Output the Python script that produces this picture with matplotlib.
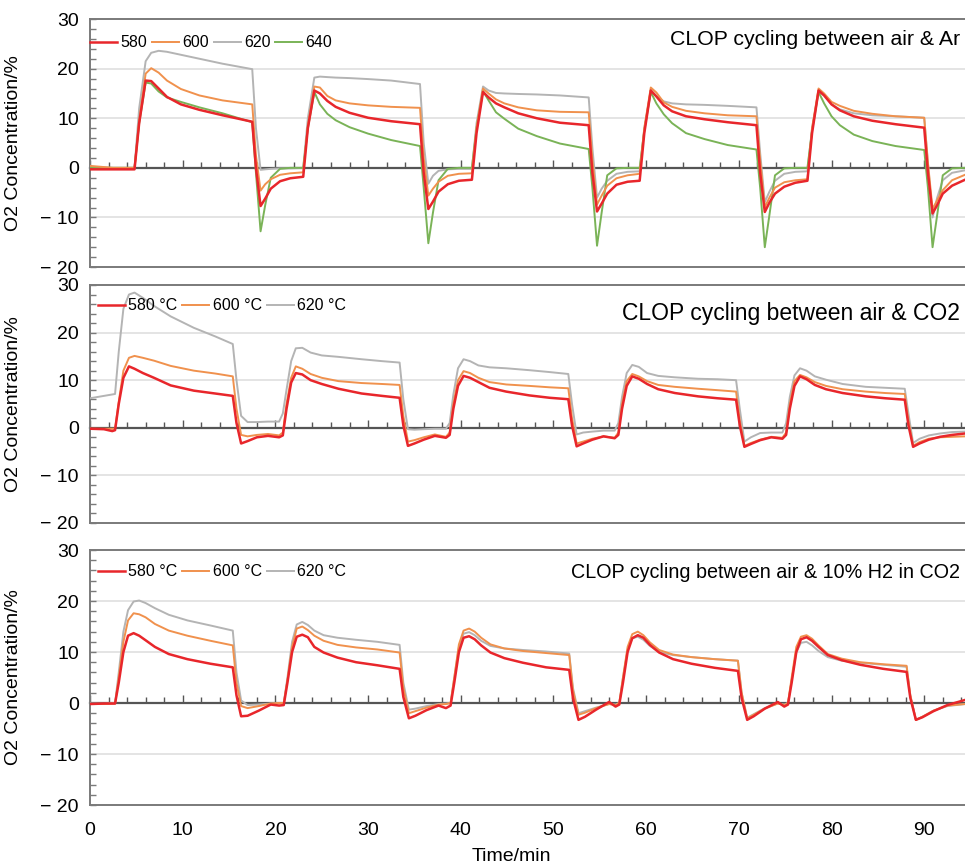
import numpy as np
import matplotlib.pyplot as plt
from matplotlib.ticker import MultipleLocator, NullFormatter

plt.rcParams['font.family'] = ['Liberation Sans', 'DejaVu Sans']

# ---- cycling between air & Ar ----
t_ar = [0, 2.5, 4.8,
        5.3, 6.0, 6.6, 7.4, 8.3, 9.8, 11.8, 14.3, 17.5, 17.9, 18.4, 18.9, 19.5, 20.5, 21.6, 23.0,
        23.5, 24.2, 24.8, 25.6, 26.5, 28.0, 30.0, 32.5, 35.6, 36.0, 36.5, 37.0, 37.6, 38.6, 39.8, 41.2,
        41.7, 42.4, 43.0, 43.8, 44.7, 46.2, 48.2, 50.7, 53.8, 54.2, 54.7, 55.2, 55.8, 56.8, 58.0, 59.3,
        59.8, 60.5, 61.1, 61.9, 62.8, 64.3, 66.3, 68.8, 71.9, 72.3, 72.8, 73.3, 73.9, 74.9, 76.1, 77.4,
        77.9, 78.6, 79.2, 80.0, 80.9, 82.4, 84.4, 86.9, 90.0, 90.4, 90.9, 91.4, 92.0, 93.0, 94.4]
ar_580 = [-0.3, -0.3, -0.3,
          9.0, 17.6, 17.5, 16.0, 14.3, 12.8, 11.7, 10.6, 9.3, 0.0, -7.7, -6.2, -4.2, -2.7, -2.1, -1.8,
          8.0, 15.6, 15.0, 13.5, 12.3, 11.1, 10.1, 9.4, 8.8, -1.0, -8.3, -6.8, -4.8, -3.3, -2.6, -2.4,
          7.0, 15.3, 14.2, 13.0, 12.2, 11.0, 10.0, 9.1, 8.6, -1.0, -8.8, -7.2, -5.2, -3.4, -2.8, -2.6,
          7.0, 15.6, 14.4, 12.6, 11.4, 10.4, 9.8, 9.2, 8.6, -1.0, -8.9, -7.0, -5.2, -3.8, -3.0, -2.6,
          7.0, 15.6, 14.6, 12.8, 11.6, 10.4, 9.5, 8.8, 8.1, -1.0, -9.2, -7.5, -5.2, -3.6, -2.4]
ar_600 = [0.4, 0.0, 0.0,
          9.5, 19.0, 20.1, 19.2, 17.6, 15.9, 14.6, 13.6, 12.8, 2.5, -4.6, -3.3, -2.3, -1.4, -1.1, -0.9,
          8.5, 16.4, 16.2, 14.5, 13.6, 13.0, 12.6, 12.3, 12.1, 2.0, -5.6, -4.2, -2.8, -1.6, -1.2, -1.1,
          8.0, 16.0, 15.0, 13.8, 13.0, 12.2, 11.6, 11.3, 11.2, 1.5, -7.4, -5.6, -3.6, -2.1, -1.5, -1.2,
          8.0, 16.2, 15.2, 13.2, 12.3, 11.5, 11.0, 10.6, 10.4, 1.5, -7.9, -6.0, -4.0, -2.9, -2.5, -2.3,
          8.0, 16.0, 15.0, 13.3, 12.5, 11.5, 10.9, 10.4, 10.1, 1.0, -8.3, -6.5, -4.5, -2.5, -1.4]
ar_620 = [0.1, 0.0, 0.0,
          12.0, 21.5, 23.2, 23.6, 23.4, 22.8, 22.0, 21.0, 19.9, 8.0, -0.4, -0.3, -0.2, -0.1, -0.1, 0.0,
          10.0, 18.2, 18.4, 18.3, 18.2, 18.1, 17.9, 17.6, 16.9, 5.0, -3.2, -1.6, -0.6, -0.3, -0.2, -0.2,
          9.0, 16.4, 15.6, 15.1, 15.0, 14.9, 14.8, 14.6, 14.2, 4.0, -6.0, -4.2, -2.6, -1.2, -0.8, -0.7,
          8.0, 15.6, 14.5, 13.4, 13.0, 12.8, 12.7, 12.5, 12.2, 3.0, -6.9, -4.8, -2.6, -1.2, -0.8, -0.7,
          8.0, 15.5, 14.6, 12.8, 11.8, 11.0, 10.6, 10.4, 10.1, 1.0, -10.0, -6.0, -2.5, -1.0, -0.5]
ar_640 = [0.0, 0.0, 0.0,
          9.0, 17.2, 17.0, 15.4, 14.2, 13.3, 12.2, 11.0, 9.2, -1.0, -12.8, -7.5, -2.0, -0.2, 0.0, 0.0,
          8.0, 15.3, 12.8, 10.9, 9.6, 8.2, 6.9, 5.6, 4.4, -4.0, -15.2, -9.0, -2.5, -0.2, 0.0, 0.0,
          8.0, 15.5, 13.6, 11.2, 9.9, 7.9, 6.4, 4.9, 3.8, -4.0, -15.7, -9.0, -1.5, -0.1, 0.0, 0.0,
          7.5, 15.3, 13.0, 10.8, 9.0, 7.0, 5.8, 4.6, 3.7, -4.0, -16.0, -9.5, -1.5, -0.1, 0.0, 0.0,
          7.5, 15.3, 13.0, 10.4, 8.6, 6.7, 5.4, 4.4, 3.6, -4.0, -16.0, -9.5, -1.5, -0.1, 0.0]

# ---- cycling between air & CO2 ----
t_co2 = [0, 1.5, 2.4, 2.7,
         3.1, 3.6, 4.2, 4.8, 5.7, 6.9, 8.7, 11.2, 13.5, 15.4, 15.8, 16.3, 17.0, 18.0, 19.2, 20.4, 20.8,
         21.2, 21.7, 22.2, 22.9, 23.8, 25.0, 26.8, 29.3, 31.5, 33.4, 33.8, 34.3, 35.0, 36.0, 37.2, 38.4, 38.8,
         39.2, 39.7, 40.3, 41.0, 41.9, 43.1, 44.9, 47.4, 49.6, 51.6, 52.0, 52.5, 53.2, 54.2, 55.4, 56.6, 57.0,
         57.4, 57.9, 58.5, 59.2, 60.1, 61.3, 63.1, 65.6, 67.7, 69.7, 70.1, 70.6, 71.3, 72.3, 73.5, 74.7, 75.1,
         75.5, 76.0, 76.6, 77.3, 78.2, 79.4, 81.2, 83.7, 85.8, 87.9, 88.3, 88.8, 89.5, 90.5, 91.7, 93.0, 94.4]
co2_580 = [-0.2, -0.3, -0.7, -0.5,
           5.0, 10.5, 12.9, 12.4, 11.5, 10.5, 8.9, 7.8, 7.2, 6.7, 1.0, -3.3, -2.8, -2.0, -1.7, -2.0, -1.6,
           4.0, 9.5, 11.5, 11.2, 10.0, 9.2, 8.2, 7.2, 6.7, 6.3, 0.5, -3.8, -3.3, -2.5, -1.7, -2.1, -1.5,
           4.0, 8.8, 10.9, 10.5, 9.6, 8.4, 7.6, 6.8, 6.3, 6.0, 0.5, -3.9, -3.3, -2.5, -1.8, -2.2, -1.5,
           4.0, 8.8, 10.8, 10.3, 9.2, 8.1, 7.3, 6.6, 6.2, 5.9, 0.5, -4.0, -3.4, -2.6, -2.0, -2.3, -1.5,
           4.0, 8.8, 10.8, 10.2, 9.0, 8.1, 7.3, 6.6, 6.2, 5.9, 0.5, -4.0, -3.3, -2.5, -1.9, -1.5, -1.2]
co2_600 = [-0.2, -0.2, -0.2, -0.2,
           5.5, 12.0, 14.7, 15.1, 14.7, 14.1, 13.0, 12.0, 11.4, 10.8, 4.0, -1.5, -1.8, -1.5, -1.3, -1.6, -1.0,
           5.0, 10.5, 12.9, 12.4, 11.3, 10.5, 9.8, 9.4, 9.2, 9.0, 2.5, -2.9, -2.6, -2.0, -1.4, -1.9, -1.0,
           5.0, 10.0, 11.9, 11.5, 10.5, 9.6, 9.1, 8.8, 8.5, 8.3, 2.0, -3.3, -2.9, -2.3, -1.8, -2.1, -1.0,
           5.0, 9.8, 11.3, 10.8, 9.8, 9.0, 8.6, 8.2, 7.9, 7.6, 1.5, -3.8, -3.2, -2.5, -1.9, -2.1, -1.0,
           5.0, 9.8, 11.1, 10.6, 9.6, 8.8, 8.1, 7.6, 7.3, 7.1, 1.5, -3.8, -3.0, -2.3, -2.0, -1.9, -1.8]
co2_620 = [6.2, 6.7, 7.0, 7.1,
           16.0, 25.0, 28.0, 28.4, 27.3, 25.6, 23.4, 21.0, 19.2, 17.6, 10.0, 2.5, 1.2, 1.2, 1.3, 1.3, 3.0,
           8.0, 14.0, 16.7, 16.8, 15.8, 15.2, 14.9, 14.4, 14.0, 13.7, 6.0, -0.3, -0.4, -0.3, -0.2, -0.2, 1.0,
           7.0, 12.5, 14.4, 14.0, 13.1, 12.7, 12.5, 12.1, 11.7, 11.3, 5.0, -1.4, -1.0, -0.8, -0.6, -0.6, 1.0,
           6.5, 11.5, 13.2, 12.8, 11.5, 10.9, 10.6, 10.3, 10.2, 10.0, 4.0, -2.9, -2.0, -1.1, -1.0, -1.0, 1.0,
           6.5, 11.0, 12.5, 12.0, 10.8, 10.1, 9.2, 8.6, 8.4, 8.2, 3.0, -3.2, -2.3, -1.6, -1.2, -0.9, -0.8]

# ---- cycling between air & 10% H2 in CO2 ----
t_h2 = [0, 1.5, 2.7,
        3.1, 3.6, 4.1, 4.7, 5.3, 6.0, 7.0, 8.5, 10.5, 13.0, 15.4, 15.8, 16.3, 17.0, 18.2, 19.5, 20.4, 20.9,
        21.3, 21.8, 22.3, 22.9, 23.5, 24.2, 25.2, 26.7, 28.7, 31.0, 33.4, 33.8, 34.4, 35.1, 36.3, 37.6, 38.4, 38.9,
        39.3, 39.8, 40.3, 40.9, 41.5, 42.2, 43.2, 44.7, 46.7, 49.2, 51.7, 52.1, 52.7, 53.4, 54.6, 56.0, 56.7, 57.1,
        57.5, 58.0, 58.5, 59.1, 59.7, 60.4, 61.4, 62.9, 64.9, 67.4, 69.9, 70.3, 70.9, 71.6, 72.8, 74.2, 74.9, 75.3,
        75.7, 76.2, 76.7, 77.3, 77.9, 78.6, 79.6, 81.1, 83.1, 85.6, 88.1, 88.5, 89.1, 89.8, 91.0, 92.5, 94.4]
h2_580 = [-0.2, -0.1, -0.1,
          4.0, 10.0, 13.2, 13.7, 13.2, 12.3, 11.0, 9.6, 8.6, 7.7, 7.0, 1.5, -2.6, -2.5, -1.5, -0.3, -0.5, -0.4,
          4.0, 10.0, 13.0, 13.4, 12.9, 11.0, 9.9, 8.9, 8.0, 7.4, 6.7, 1.2, -3.0, -2.5, -1.4, -0.5, -1.0, -0.5,
          4.0, 10.0, 12.8, 13.1, 12.5, 11.3, 9.9, 8.8, 7.9, 7.0, 6.5, 1.0, -3.3, -2.7, -1.3, 0.2, -0.7, -0.3,
          4.0, 10.0, 12.7, 13.3, 12.8, 11.4, 9.9, 8.6, 7.7, 6.9, 6.3, 1.0, -3.3, -2.6, -1.1, 0.2, -0.7, -0.3,
          4.0, 10.0, 12.5, 12.9, 12.2, 11.0, 9.4, 8.4, 7.5, 6.7, 6.1, 1.0, -3.3, -2.8, -1.6, -0.4, 0.6]
h2_600 = [-0.2, -0.2, -0.1,
          5.0, 12.0, 16.2, 17.6, 17.4, 16.8, 15.5, 14.2, 13.2, 12.2, 11.3, 4.0, -0.6, -1.0, -0.6, -0.1, 0.0, 0.0,
          4.5, 11.0, 14.6, 15.0, 14.3, 13.2, 12.2, 11.4, 10.9, 10.5, 9.9, 3.0, -2.0, -1.6, -0.9, -0.3, -0.2, 0.0,
          5.0, 11.5, 14.2, 14.6, 14.0, 12.8, 11.5, 10.7, 10.2, 9.8, 9.4, 2.5, -2.3, -1.9, -1.0, -0.2, -0.4, 0.0,
          5.0, 11.0, 13.5, 14.0, 13.3, 11.9, 10.4, 9.5, 9.0, 8.6, 8.3, 2.0, -3.0, -2.3, -1.1, -0.1, -0.4, 0.0,
          5.0, 11.0, 13.0, 13.3, 12.6, 11.3, 9.6, 8.7, 8.0, 7.6, 7.3, 1.5, -3.3, -2.7, -1.5, -0.5, -0.2]
h2_620 = [-0.1, -0.1, 0.0,
          6.0, 14.0, 18.2, 19.9, 20.1, 19.6, 18.6, 17.3, 16.2, 15.2, 14.2, 6.0, 0.5, -0.4, -0.3, -0.1, 0.0, 0.0,
          5.0, 12.0, 15.4, 15.9, 15.3, 14.2, 13.3, 12.8, 12.4, 12.0, 11.4, 4.0, -1.3, -1.1, -0.6, -0.2, -0.1, 0.0,
          5.0, 11.0, 13.6, 13.9, 13.3, 12.2, 11.2, 10.7, 10.4, 10.1, 9.7, 3.0, -2.0, -1.6, -0.9, -0.2, -0.3, 0.0,
          5.0, 10.5, 12.7, 13.0, 12.4, 11.2, 10.0, 9.4, 9.0, 8.6, 8.3, 2.0, -2.9, -2.2, -1.0, -0.1, -0.3, 0.0,
          4.5, 10.0, 11.8, 12.0, 11.3, 10.2, 9.0, 8.3, 7.9, 7.5, 7.1, 1.5, -3.3, -2.7, -1.5, -0.6, -0.2]

RED, ORANGE, GREY, GREEN = '#e8262b', '#f0914d', '#b4b4b4', '#7ab357'

panels = [
    ('CLOP cycling between air & Ar', 15.3, 0.918, t_ar,
     [(ar_580, '580', RED), (ar_600, '600', ORANGE), (ar_620, '620', GREY), (ar_640, '640', GREEN)]),
    ('CLOP cycling between air & CO2', 16.5, 0.882, t_co2,
     [(co2_580, '580 °C', RED), (co2_600, '600 °C', ORANGE), (co2_620, '620 °C', GREY)]),
    ('CLOP cycling between air & 10% H2 in CO2', 14.2, 0.91, t_h2,
     [(h2_580, '580 °C', RED), (h2_600, '600 °C', ORANGE), (h2_620, '620 °C', GREY)]),
]

# axes boxes in figure fractions: left, bottom, width, height
boxes = [(0.0933, 0.692, 0.9067, 0.286),
         (0.0933, 0.3968, 0.9067, 0.2745),
         (0.0933, 0.0715, 0.9067, 0.2941)]
legend_pos = [(0.0, 0.904), (0.009, 0.912), (0.009, 0.914)]

fig = plt.figure(figsize=(9.65, 8.67), dpi=100)
frame = '#7a7a7a'

for i, ((title, tsize, ty, t, series), box) in enumerate(zip(panels, boxes)):
    ax = fig.add_axes(box)
    ax.set_xlim(0, 94.4)
    ax.set_ylim(-20, 30)

    for yg in (-10, 10, 20):
        ax.axhline(yg, color='#e2e2e2', lw=1.3, zorder=0)

    # grey and green underneath, red on top
    order = [2, 3, 1, 0] if len(series) == 4 else [2, 1, 0]
    handles = {}
    for k in order:
        y, lab, col = series[k]
        lw = 1.8 if col == RED else 1.4
        h, = ax.plot(t, y, color=col, lw=lw, label=lab, solid_joinstyle='round',
                     zorder=3 + (col == RED))
        handles[k] = h

    ax.legend([handles[k] for k in range(len(series))], [s[1] for s in series],
              loc='center left', bbox_to_anchor=legend_pos[i], ncol=len(series),
              frameon=False, fontsize=11.5, handlelength=1.7, handletextpad=0.2,
              columnspacing=0.3, borderaxespad=0, borderpad=0)

    ax.text(0.994, ty, title, transform=ax.transAxes, ha='right', va='center', fontsize=tsize)

    for side in ('top', 'bottom', 'left'):
        ax.spines[side].set_color(frame)
        ax.spines[side].set_linewidth(1.4)
    ax.spines['right'].set_visible(False)

    ax.set_yticks([-20, -10, 0, 10, 20, 30])
    ax.set_yticklabels(['− 20', '− 10', '0', '10', '20', '30'])
    ax.yaxis.set_minor_locator(MultipleLocator(2))
    ax.tick_params(axis='y', which='both', direction='in', length=4, width=1, color=frame,
                   labelsize=14, pad=8)
    ax.set_ylabel('O2 Concentration/%', fontsize=14)
    ax.yaxis.set_label_coords(-0.078, 0.5)

    # zero line with its own small ticks
    zero = ax.secondary_xaxis(0.4)
    zero.spines['bottom'].set_color('#555555')
    zero.spines['bottom'].set_linewidth(1.6)
    zero.xaxis.set_major_locator(MultipleLocator(10))
    zero.xaxis.set_minor_locator(MultipleLocator(2))
    zero.xaxis.set_major_formatter(NullFormatter())
    zero.tick_params(axis='x', which='major', direction='in', length=6, width=1, color='#555555')
    zero.tick_params(axis='x', which='minor', direction='in', length=4, width=1, color='#555555')

    ax.set_xticks(np.arange(0, 91, 10))
    ax.tick_params(axis='x', which='both', length=0, labelsize=14, pad=12)
    if i < 2:
        ax.tick_params(axis='x', labelbottom=False)
    else:
        ax.set_xlabel('Time/min', fontsize=14)
        ax.xaxis.set_label_coords(0.482, -0.17)

fig.savefig('out.png', dpi=100)
